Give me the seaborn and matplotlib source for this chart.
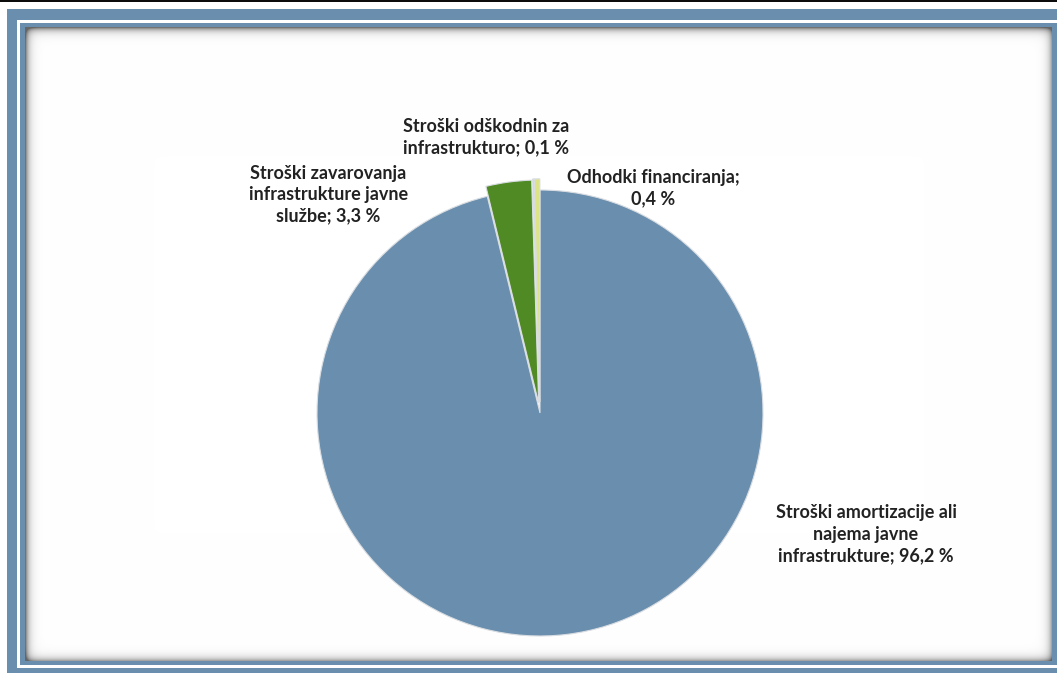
import numpy as np
import matplotlib
matplotlib.use("Agg")
import matplotlib.pyplot as plt
import seaborn as sns

# data
labels = [
    "Stroški amortizacije ali\nnajema javne\ninfrastrukture; 96,2 %",
    "Stroški zavarovanja\ninfrastrukture javne\nslužbe; 3,3 %",
    "Stroški odškodnin za\ninfrastrukturo; 0,1 %",
    "Odhodki financiranja;\n0,4 %",
]
shares = [96.2, 3.3, 0.1, 0.4]
colors = ["#6a8fae", "#4f8a24", "#9fd6e4", "#dde487"]
explode = [0.0, 0.045, 0.05, 0.05]
# label centres in pie units (radius = 1)
label_xy = [(1.462, -0.543), (-0.95, 0.978), (-0.243, 1.235), (0.507, 1.01)]

sns.set_theme(style="white")
plt.rcParams["font.family"] = ["Lato", "DejaVu Sans"]

W, H = 1057, 673
fig = plt.figure(figsize=(W / 100, H / 100), dpi=100)

## frame drawn as an image behind the pie
frame_blue = np.array([0x6a, 0x8f, 0xae]) / 255
img = np.ones((H, W, 3))
img[0:2, :] = 0.05
img[9:, 7:] = frame_blue
img[20:668, 17:] = 1.0
img[23:665, 20:] = frame_blue
img[27:661, 25:1052] = 1.0
yy, xx = np.mgrid[0:H, 0:W]
d_top = yy - 27
d_left = xx - 25
d_right = 1051 - xx
d_bot = 660 - yy
inside = (d_top >= 0) & (d_left >= 0) & (d_right >= 0) & (d_bot >= 0)
shade = (0.55 * np.exp(-np.clip(d_top, 0, None) / 3.5)
         + 0.55 * np.exp(-np.clip(d_left, 0, None) / 3.5)
         + 0.35 * np.exp(-np.clip(d_right, 0, None) / 3.5)
         + 0.35 * np.exp(-np.clip(d_bot, 0, None) / 3.5))
shade = np.clip(shade, 0, 0.6)
for c in range(3):
    img[..., c] = np.where(inside, img[..., c] * (1 - shade), img[..., c])

bg = fig.add_axes([0, 0, 1, 1])
bg.imshow(img, aspect="auto", interpolation="nearest")
bg.axis("off")

## pie: centre at (540, 413) px, radius 223 px
cx, cy, r = 540, 413, 223
ax = fig.add_axes([0, 0, 1, 1])
ax.patch.set_visible(False)
ax.pie(
    shares,
    colors=colors,
    explode=explode,
    startangle=90,
    counterclock=False,
    wedgeprops=dict(edgecolor="#d9dde2", linewidth=0.8),
)
ax.set_xlim(-cx / r, (W - cx) / r)
ax.set_ylim(-(H - cy) / r, cy / r)
ax.set_aspect("auto")
ax.axis("off")

for text, (x, y) in zip(labels, label_xy):
    ax.text(x, y, text, ha="center", va="center", fontsize=13,
            fontweight="bold", color="#222222", linespacing=1.3)

fig.savefig("out.png", dpi=100)
